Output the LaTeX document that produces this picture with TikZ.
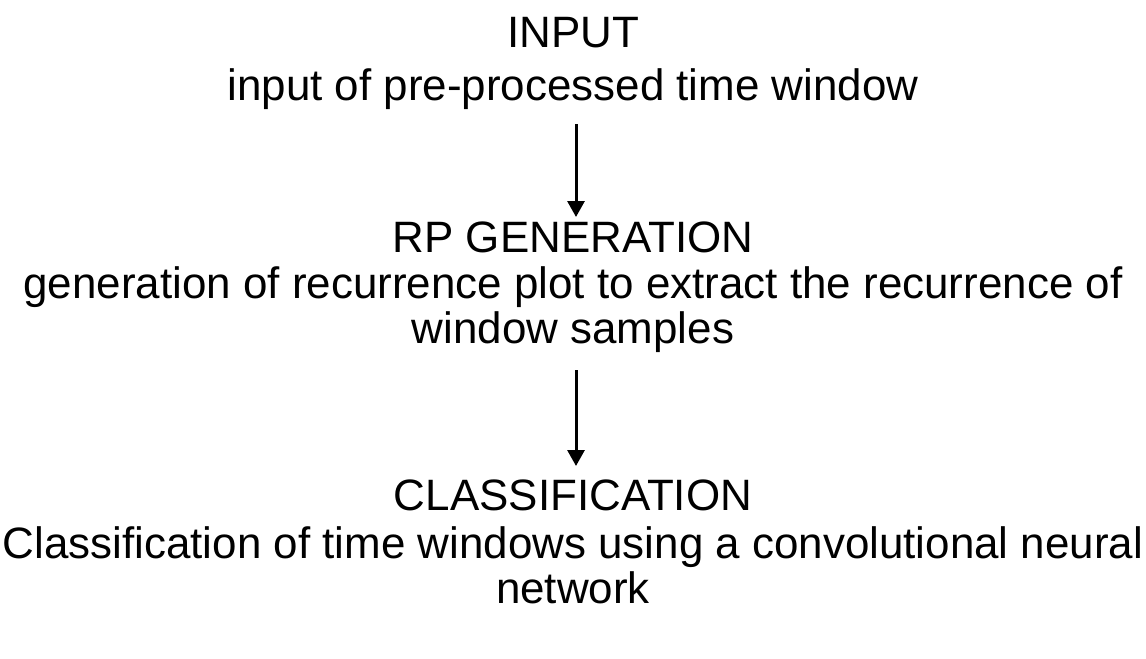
\documentclass[tikz,border=0pt]{standalone}
\usepackage{fontspec}
\setmainfont{Liberation Sans}
\usepackage{xcolor}
\usetikzlibrary{arrows.meta,positioning}

\begin{document}
\begin{tikzpicture}[
  title/.style={font=\fontsize{12.5}{12.9}\selectfont,inner sep=0pt,anchor=base},
  desc/.style={font=\fontsize{12.5}{12.9}\selectfont,inner sep=0pt,align=center,anchor=north},
  arrow/.style={-{Triangle[length=1.6mm,width=1.7mm]},line width=0.85pt}
]
  \useasboundingbox (0,0) rectangle (11.46,-6.58);
  \node[title] (input) at (5.73,-0.48) {INPUT};
  \node[desc] (inputdesc) at (5.73,-0.68) {input of pre-processed time window};
  \node[title] (rpgen) at (5.73,-2.52) {RP GENERATION};
  \node[desc] (rpdesc) at (5.73,-2.66) {generation of recurrence plot to extract the recurrence of\\window samples};
  \node[title] (classif) at (5.73,-5.10) {CLASSIFICATION};
  \node[desc] (classdesc) at (5.73,-5.26) {Classification of time windows using a convolutional neural\\network};
  \draw[arrow] (5.76,-1.24) coordinate (a1) -- (5.76,-2.17) coordinate (b1);
  \draw[arrow] (5.76,-3.70) coordinate (a2) -- (5.76,-4.66) coordinate (b2);
\end{tikzpicture}
\end{document}
